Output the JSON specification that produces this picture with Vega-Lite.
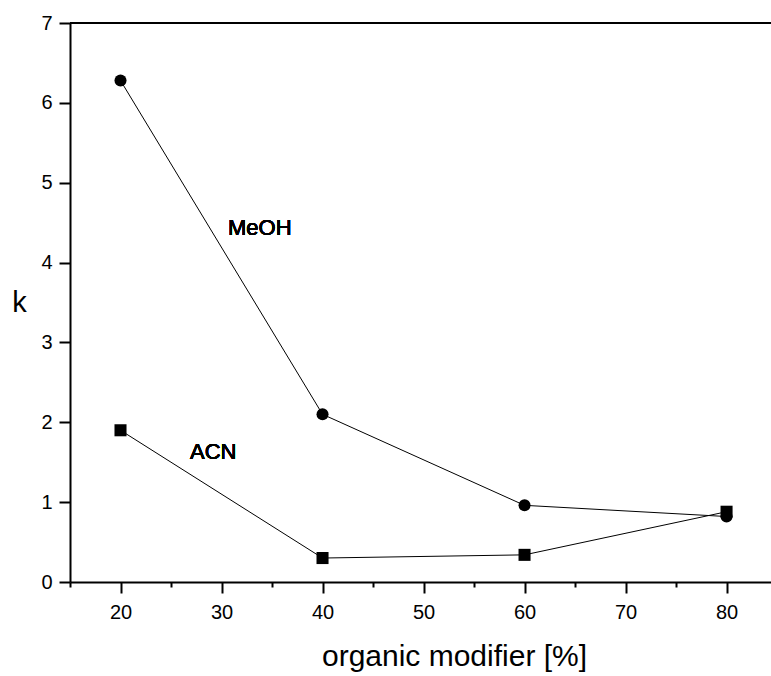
{
  "$schema": "https://vega.github.io/schema/vega-lite/v6.json",
  "autosize": "none",
  "padding": {"left": 70, "top": 23, "right": 0, "bottom": 94},
  "width": 701,
  "height": 559,
  "background": "white",
  "config": {
    "view": {"stroke": null},
    "font": "Liberation Sans",
    "axis": {"grid": false, "domainColor": "black", "tickColor": "black", "labelColor": "black", "titleColor": "black", "labelFont": "Liberation Sans", "titleFont": "Liberation Sans", "titleFontWeight": "normal", "labelFontWeight": "normal"},
    "text": {"font": "Liberation Sans", "fontWeight": "normal"}
  },
  "data": {
    "values": [
      {"series": "MeOH", "x": 20, "k": 6.28},
      {"series": "MeOH", "x": 40, "k": 2.1},
      {"series": "MeOH", "x": 60, "k": 0.96},
      {"series": "MeOH", "x": 80, "k": 0.82},
      {"series": "ACN", "x": 20, "k": 1.9},
      {"series": "ACN", "x": 40, "k": 0.3},
      {"series": "ACN", "x": 60, "k": 0.34},
      {"series": "ACN", "x": 80, "k": 0.88}
    ]
  },
  "layer": [
    {
      "mark": {"type": "line", "color": "black", "strokeWidth": 1},
      "encoding": {
        "x": {
          "field": "x", "type": "quantitative",
          "scale": {"domain": [15, 84.4], "nice": false, "zero": false},
          "axis": {
            "title": "organic modifier [%]",
            "values": [15, 20, 25, 30, 35, 40, 45, 50, 55, 60, 65, 70, 75, 80],
            "format": "d",
            "labelExpr": "datum.value % 10 === 0 ? datum.label : ''",
            "tickSize": {"condition": {"test": "datum.value % 10 !== 0", "value": 5}, "value": 11},
            "tickWidth": 2,
            "domainWidth": 2,
            "labelFontSize": 20,
            "labelPadding": 9,
            "titleFontSize": 30,
            "titlePadding": 19,
            "titleX": 384,
            "titleAlign": "center"
          }
        },
        "y": {
          "field": "k", "type": "quantitative",
          "scale": {"domain": [0, 7], "nice": false},
          "axis": {
            "title": "k",
            "values": [0, 0.5, 1, 1.5, 2, 2.5, 3, 3.5, 4, 4.5, 5, 5.5, 6, 6.5, 7],
            "format": "d",
            "labelExpr": "datum.value % 1 === 0 ? datum.label : ''",
            "tickSize": {"condition": {"test": "datum.value % 1 !== 0", "value": 5}, "value": 11},
            "tickWidth": 2,
            "domainWidth": 2,
            "labelFontSize": 20,
            "labelPadding": 7,
            "titleFontSize": 29,
            "titleAngle": 0,
            "titleAlign": "center",
            "titleBaseline": "middle",
            "titleX": -51,
            "titleY": 279.5
          }
        },
        "detail": {"field": "series"}
      }
    },
    {
      "mark": {"type": "point", "filled": true, "color": "black", "opacity": 1},
      "encoding": {
        "x": {"field": "x", "type": "quantitative"},
        "y": {"field": "k", "type": "quantitative"},
        "shape": {"field": "series", "type": "nominal", "scale": {"domain": ["MeOH", "ACN"], "range": ["circle", "square"]}, "legend": null},
        "size": {"value": 145}
      }
    },
    {
      "mark": {"type": "text", "fontSize": 22, "fontWeight": "normal", "color": "black", "align": "center", "baseline": "middle"},
      "encoding": {
        "x": {"datum": 33.79, "type": "quantitative"},
        "y": {"datum": 4.43, "type": "quantitative"},
        "text": {"value": "MeOH"}
      }
    },
    {
      "mark": {"type": "text", "fontSize": 22, "fontWeight": "normal", "color": "black", "align": "center", "baseline": "middle"},
      "encoding": {
        "x": {"datum": 29.18, "type": "quantitative"},
        "y": {"datum": 1.63, "type": "quantitative"},
        "text": {"value": "ACN"}
      }
    },
    {
      "mark": {"type": "rule", "color": "black", "strokeWidth": 1.5},
      "encoding": {
        "y": {"datum": 7, "type": "quantitative"}
      }
    }
  ]
}
